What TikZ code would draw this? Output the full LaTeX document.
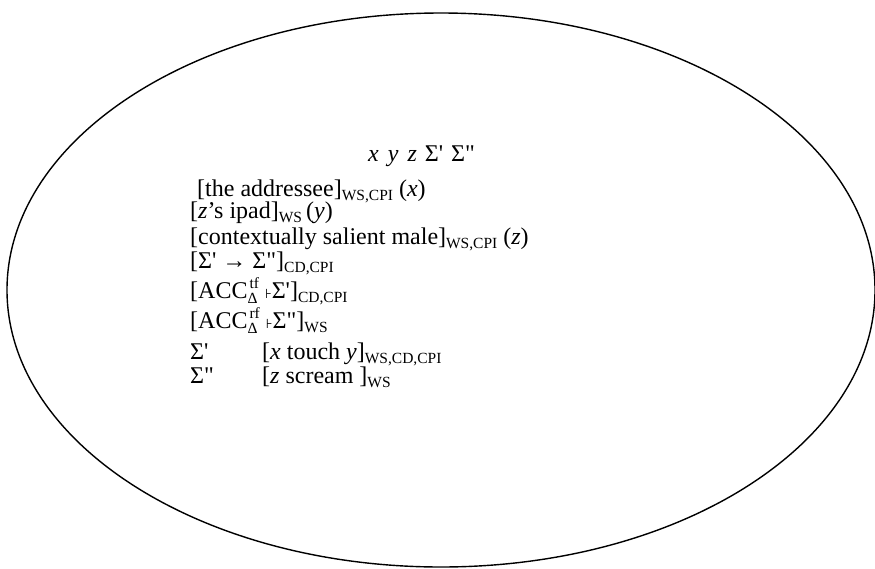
\documentclass[tikz,border=0pt]{standalone}
\usepackage{fontspec}
\usetikzlibrary{shapes.geometric}
\newfontfamily\tnr{Liberation Serif}
\newfontfamily\dvs{DejaVu Sans}
\newcommand\sbx[1]{\raisebox{-4pt}{\fontsize{15.5}{16}\selectfont #1}}
\newcommand\ssb[2]{\rlap{\raisebox{-5pt}{\fontsize{15.5}{16}\selectfont #1}}\hspace{2pt}\raisebox{10pt}{\fontsize{15.5}{16}\selectfont #2}}
\newcommand\turnst{{\dvs\fontsize{13}{13}\selectfont ⊦}}
\begin{document}
\begin{tikzpicture}[x=1pt,y=-1pt,
  txt/.style={anchor=base west, inner sep=0pt, font=\tnr\fontsize{24}{28}\selectfont}]
\useasboundingbox (0,0) rectangle (875,568);
\node[draw, ellipse, line width=1.4pt, minimum width=868pt, minimum height=554pt, inner sep=0pt] (frame) at (441,290) {};
\node[txt] (vars) at (368,161) {\textit{x}\hspace{9pt}\textit{y}\hspace{9pt}\textit{z}\hspace{8pt}Σ'\hspace{8pt}Σ"};
\node[txt] (l1) at (197,196) {[the addressee]\sbx{WS,CPI} (\textit{x})};
\node[txt] (l2) at (190,218) {[\textit{z}’s ipad]\sbx{WS}\hspace{4pt}(\textit{y})};
\node[txt] (l3) at (190,244) {[contextually salient male]\sbx{WS,CPI} (\textit{z})};
\node[txt] (l4) at (190,268) {[Σ' → Σ"]\sbx{CD,CPI}};
\node[txt] (l5) at (190,298) {[ACC\ssb{Δ}{tf} \turnst Σ']\sbx{CD,CPI}};
\node[txt] (l6) at (190,328) {[ACC\ssb{Δ}{rf} \turnst Σ"]\sbx{WS}};
\node[txt] (s1) at (190,359) {Σ'};
\node[txt] (t1) at (262,359) {[\textit{x} touch \textit{y}]\sbx{WS,CD,CPI}};
\node[txt] (s2) at (190,383) {Σ"};
\node[txt] (t2) at (262,383) {[\textit{z} scream ]\sbx{WS}};
\end{tikzpicture}
\end{document}
